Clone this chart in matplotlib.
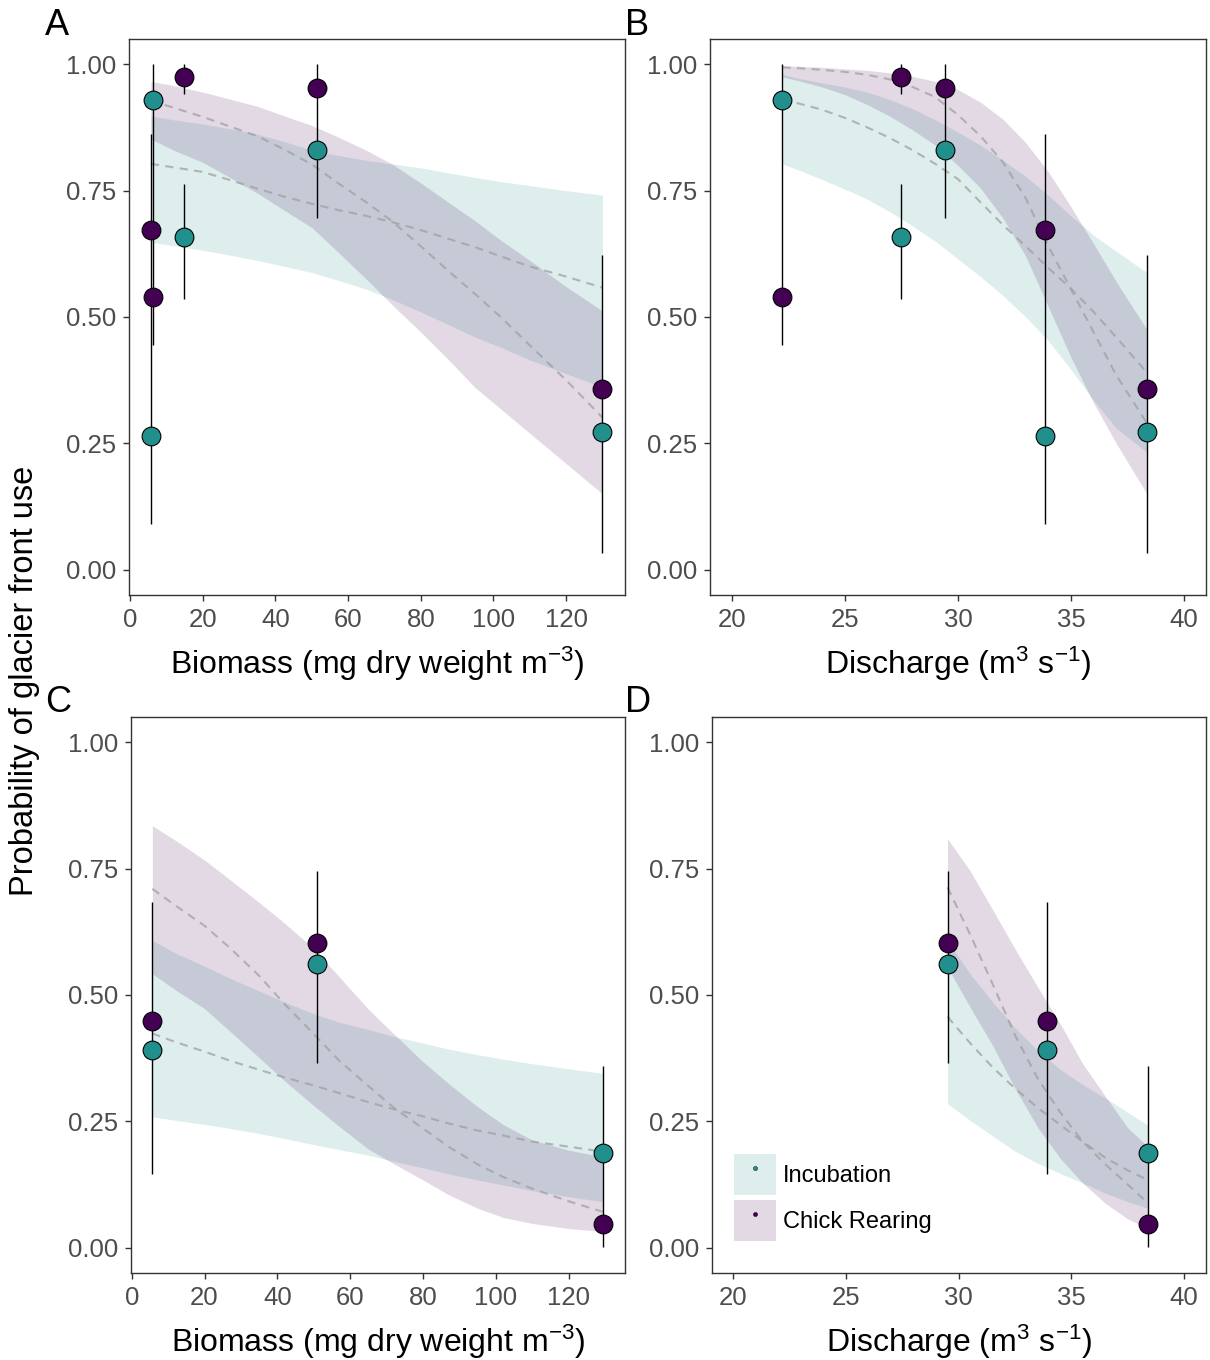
import numpy as np
import matplotlib
matplotlib.use('Agg')
import matplotlib.pyplot as plt
from matplotlib.patches import Patch
from matplotlib.lines import Line2D

plt.rcParams['font.family'] = ['Liberation Sans', 'DejaVu Sans']
plt.rcParams['mathtext.fontset'] = 'custom'
plt.rcParams['mathtext.rm'] = 'Liberation Sans'
plt.rcParams['mathtext.it'] = 'Liberation Sans'
plt.rcParams['mathtext.default'] = 'regular'

TEAL = '#21908C'
PURPLE = '#440154'

#~~~~~~~~~~~~~~~~~~~~~~~~~~~~~~~~~~~~~~~~~~~~~
# site values (top row: A, B)
#~~~~~~~~~~~~~~~~~~~~~~~~~~~~~~~~~~~~~~~~~~~~~
top_biomass = [5.7, 6.4, 14.9, 51.4, 130.0]
top_discharge = [33.85, 22.24, 27.47, 29.43, 38.36]
top_inc = [0.265, 0.930, 0.659, 0.830, 0.272]
top_chick = [0.673, 0.539, 0.975, 0.953, 0.357]
top_bar_lo = [0.090, 0.445, 0.535, 0.696, 0.033]
top_bar_hi = [0.863, 1.000, 0.763, 1.000, 0.623]
# short bar on the chick rearing point at biomass 14.9
top_bar2_lo = [None, None, 0.941, None, None]
top_bar2_hi = [None, None, 1.000, None, None]

# site values (bottom row: C, D)
bot_biomass = [5.66, 50.9, 129.4]
bot_discharge = [33.9, 29.5, 38.4]
bot_inc = [0.391, 0.561, 0.187]
bot_chick = [0.449, 0.603, 0.046]
bot_bar_lo = [0.145, 0.366, 0.002]
bot_bar_hi = [0.684, 0.746, 0.359]

#~~~~~~~~~~~~~~~~~~~~~~~~~~~~~~~~~~~~~~~~~~~~~
# fitted curves and ribbons
#~~~~~~~~~~~~~~~~~~~~~~~~~~~~~~~~~~~~~~~~~~~~~
A_x = [5.7, 12, 20, 27, 35, 42, 50, 57, 65, 72, 80, 87, 95, 102, 110, 120, 130]
A_inc_lo = [0.648, 0.641, 0.632, 0.623, 0.612, 0.601, 0.588, 0.573, 0.555, 0.535, 0.510, 0.487, 0.460, 0.440, 0.415, 0.388, 0.361]
A_inc_hi = [0.898, 0.890, 0.882, 0.873, 0.862, 0.848, 0.830, 0.820, 0.810, 0.803, 0.795, 0.786, 0.776, 0.768, 0.760, 0.750, 0.741]
A_inc_fit = [0.803, 0.796, 0.787, 0.772, 0.754, 0.739, 0.724, 0.712, 0.700, 0.688, 0.672, 0.656, 0.638, 0.620, 0.600, 0.580, 0.558]
A_chick_lo = [0.852, 0.830, 0.806, 0.778, 0.745, 0.713, 0.677, 0.630, 0.575, 0.525, 0.470, 0.420, 0.360, 0.318, 0.270, 0.210, 0.150]
A_chick_hi = [0.966, 0.958, 0.945, 0.932, 0.917, 0.899, 0.879, 0.857, 0.830, 0.803, 0.765, 0.730, 0.690, 0.652, 0.612, 0.560, 0.512]
A_chick_fit = [0.928, 0.914, 0.896, 0.878, 0.858, 0.833, 0.802, 0.766, 0.727, 0.690, 0.640, 0.595, 0.545, 0.500, 0.444, 0.375, 0.301]

B_x = [22.24, 23, 24, 25, 26, 27, 28, 29, 30, 31, 32, 33, 34, 35, 36, 37, 38.36]
B_inc_lo = [0.803, 0.790, 0.772, 0.753, 0.733, 0.708, 0.680, 0.650, 0.615, 0.580, 0.542, 0.500, 0.453, 0.396, 0.335, 0.280, 0.232]
B_inc_hi = [0.980, 0.972, 0.963, 0.955, 0.945, 0.930, 0.912, 0.890, 0.866, 0.840, 0.810, 0.778, 0.741, 0.700, 0.662, 0.630, 0.588]
B_inc_fit = [0.930, 0.922, 0.910, 0.894, 0.875, 0.854, 0.830, 0.803, 0.773, 0.727, 0.682, 0.640, 0.597, 0.556, 0.510, 0.460, 0.390]
B_chick_lo = [0.975, 0.967, 0.955, 0.940, 0.920, 0.897, 0.870, 0.840, 0.800, 0.755, 0.695, 0.620, 0.520, 0.420, 0.330, 0.250, 0.150]
B_chick_hi = [0.997, 0.996, 0.994, 0.991, 0.988, 0.983, 0.976, 0.966, 0.950, 0.925, 0.891, 0.845, 0.787, 0.718, 0.645, 0.570, 0.475]
B_chick_fit = [0.994, 0.992, 0.989, 0.985, 0.979, 0.970, 0.955, 0.935, 0.900, 0.858, 0.806, 0.735, 0.640, 0.555, 0.470, 0.385, 0.290]

C_x = [5.66, 12, 20, 27, 35, 42, 50, 57, 65, 72, 80, 87, 95, 102, 110, 120, 129.4]
C_inc_lo = [0.259, 0.252, 0.244, 0.236, 0.226, 0.216, 0.204, 0.194, 0.183, 0.171, 0.158, 0.146, 0.134, 0.124, 0.113, 0.101, 0.091]
C_inc_hi = [0.608, 0.583, 0.557, 0.533, 0.508, 0.486, 0.463, 0.446, 0.432, 0.418, 0.405, 0.393, 0.382, 0.373, 0.364, 0.354, 0.345]
C_inc_fit = [0.424, 0.407, 0.388, 0.370, 0.352, 0.337, 0.321, 0.306, 0.288, 0.274, 0.260, 0.246, 0.232, 0.222, 0.210, 0.200, 0.190]
C_chick_lo = [0.542, 0.510, 0.473, 0.428, 0.376, 0.330, 0.281, 0.240, 0.195, 0.166, 0.134, 0.105, 0.078, 0.060, 0.048, 0.038, 0.032]
C_chick_hi = [0.835, 0.806, 0.767, 0.728, 0.683, 0.642, 0.592, 0.536, 0.472, 0.423, 0.368, 0.325, 0.279, 0.244, 0.213, 0.193, 0.180]
C_chick_fit = [0.710, 0.677, 0.637, 0.593, 0.538, 0.482, 0.423, 0.370, 0.320, 0.277, 0.236, 0.200, 0.165, 0.140, 0.117, 0.092, 0.071]

D_x = [29.5, 30.5, 31.5, 32.5, 33.5, 34.5, 35.5, 36.5, 37.5, 38.4]
D_inc_lo = [0.285, 0.252, 0.221, 0.191, 0.167, 0.147, 0.128, 0.108, 0.091, 0.078]
D_inc_hi = [0.608, 0.542, 0.486, 0.435, 0.390, 0.353, 0.323, 0.296, 0.268, 0.242]
D_inc_fit = [0.457, 0.405, 0.357, 0.315, 0.277, 0.243, 0.210, 0.178, 0.153, 0.134]
D_chick_lo = [0.555, 0.476, 0.400, 0.315, 0.238, 0.177, 0.128, 0.088, 0.057, 0.038]
D_chick_hi = [0.809, 0.746, 0.669, 0.591, 0.516, 0.443, 0.364, 0.300, 0.237, 0.200]
D_chick_fit = [0.713, 0.620, 0.522, 0.420, 0.335, 0.268, 0.210, 0.165, 0.125, 0.088]

biomass_label = 'Biomass (mg dry weight m$^{-3}$)'
discharge_label = 'Discharge (m$^{3}$ s$^{-1}$)'


def panel(ax, cx, inc_lo, inc_hi, inc_fit, ch_lo, ch_hi, ch_fit,
          sx, inc_y, ch_y, blo, bhi, xlim, xticks, xlabel):
     ax.fill_between(cx, inc_lo, inc_hi, color=TEAL, alpha=0.15, lw=0)
     ax.fill_between(cx, ch_lo, ch_hi, color=PURPLE, alpha=0.15, lw=0)
     ax.plot(cx, inc_fit, color='#a0a0a0', alpha=0.75, lw=1.5, ls=(0, (4, 3)))
     ax.plot(cx, ch_fit, color='#a0a0a0', alpha=0.75, lw=1.5, ls=(0, (4, 3)))
     ax.vlines(sx, blo, bhi, color='black', lw=1.0)
     ax.plot(sx, inc_y, 'o', ms=13.5, mfc=TEAL, mec='black', mew=0.8, ls='none')
     ax.plot(sx, ch_y, 'o', ms=13.5, mfc=PURPLE, mec='black', mew=0.8, ls='none')
     ax.set_xlim(xlim)
     ax.set_ylim(-0.05, 1.05)
     ax.set_xticks(xticks)
     ax.set_yticks([0, 0.25, 0.5, 0.75, 1.0])
     ax.set_yticklabels(['0.00', '0.25', '0.50', '0.75', '1.00'])
     ax.tick_params(labelsize=18.5, labelcolor='#4d4d4d', color='#333333',
                    length=4, width=1.0, pad=5.5)
     for s in ax.spines.values():
          s.set_color('#333333')
          s.set_linewidth(1.0)
     ax.set_xlabel(xlabel, size=23, labelpad=9)


fig = plt.figure(figsize=(12.1, 13.6), dpi=100)
W, H = 1210.0, 1360.0

axA = fig.add_axes([129 / W, 1 - 595 / H, 496 / W, 556 / H])
axB = fig.add_axes([710 / W, 1 - 595 / H, 496 / W, 556 / H])
axC = fig.add_axes([131 / W, 1 - 1273 / H, 494 / W, 556 / H])
axD = fig.add_axes([712 / W, 1 - 1273 / H, 494 / W, 556 / H])

panel(axA, A_x, A_inc_lo, A_inc_hi, A_inc_fit, A_chick_lo, A_chick_hi, A_chick_fit,
      top_biomass, top_inc, top_chick, top_bar_lo, top_bar_hi,
      (-0.3, 136.2), [0, 20, 40, 60, 80, 100, 120], biomass_label)
panel(axB, B_x, B_inc_lo, B_inc_hi, B_inc_fit, B_chick_lo, B_chick_hi, B_chick_fit,
      top_discharge, top_inc, top_chick, top_bar_lo, top_bar_hi,
      (19.04, 40.97), [20, 25, 30, 35, 40], discharge_label)
panel(axC, C_x, C_inc_lo, C_inc_hi, C_inc_fit, C_chick_lo, C_chick_hi, C_chick_fit,
      bot_biomass, bot_inc, bot_chick, bot_bar_lo, bot_bar_hi,
      (-0.2, 135.5), [0, 20, 40, 60, 80, 100, 120], biomass_label)
panel(axD, D_x, D_inc_lo, D_inc_hi, D_inc_fit, D_chick_lo, D_chick_hi, D_chick_fit,
      bot_discharge, bot_inc, bot_chick, bot_bar_lo, bot_bar_hi,
      (19.05, 40.97), [20, 25, 30, 35, 40], discharge_label)

# extra short bar at the biomass 14.9 / discharge 27.47 site
for ax, xs in [(axA, top_biomass), (axB, top_discharge)]:
     for i in range(len(xs)):
          if top_bar2_lo[i] is not None:
               ax.vlines(xs[i], top_bar2_lo[i], top_bar2_hi[i], color='black', lw=1.0, zorder=1.5)

# legend in panel D
h_inc = (Patch(facecolor=TEAL, alpha=0.15, lw=0),
         Line2D([], [], marker='o', ms=3, color=TEAL, mec='black', mew=0.3, ls='none'))
h_chick = (Patch(facecolor=PURPLE, alpha=0.15, lw=0),
           Line2D([], [], marker='o', ms=3, color=PURPLE, mec='black', mew=0.3, ls='none'))
axD.legend([h_inc, h_chick], ['Incubation', 'Chick Rearing'], loc='lower left',
           bbox_to_anchor=(0.045, 0.058), frameon=False, fontsize=17,
           handlelength=1.78, handleheight=2.3, handletextpad=0.3,
           labelspacing=0.2, borderpad=0, borderaxespad=0)

# panel letters and shared y title
fig.text(45 / W, 1 - 35 / H, 'A', size=26, va='baseline')
fig.text(625 / W, 1 - 35 / H, 'B', size=26, va='baseline')
fig.text(45 / W, 1 - 712 / H, 'C', size=26, va='baseline')
fig.text(625 / W, 1 - 712 / H, 'D', size=26, va='baseline')
fig.text(25 / W, 1 - 681 / H, 'Probability of glacier front use', size=23.5,
         rotation=90, ha='center', va='center')

fig.savefig('out.png', dpi=100)
